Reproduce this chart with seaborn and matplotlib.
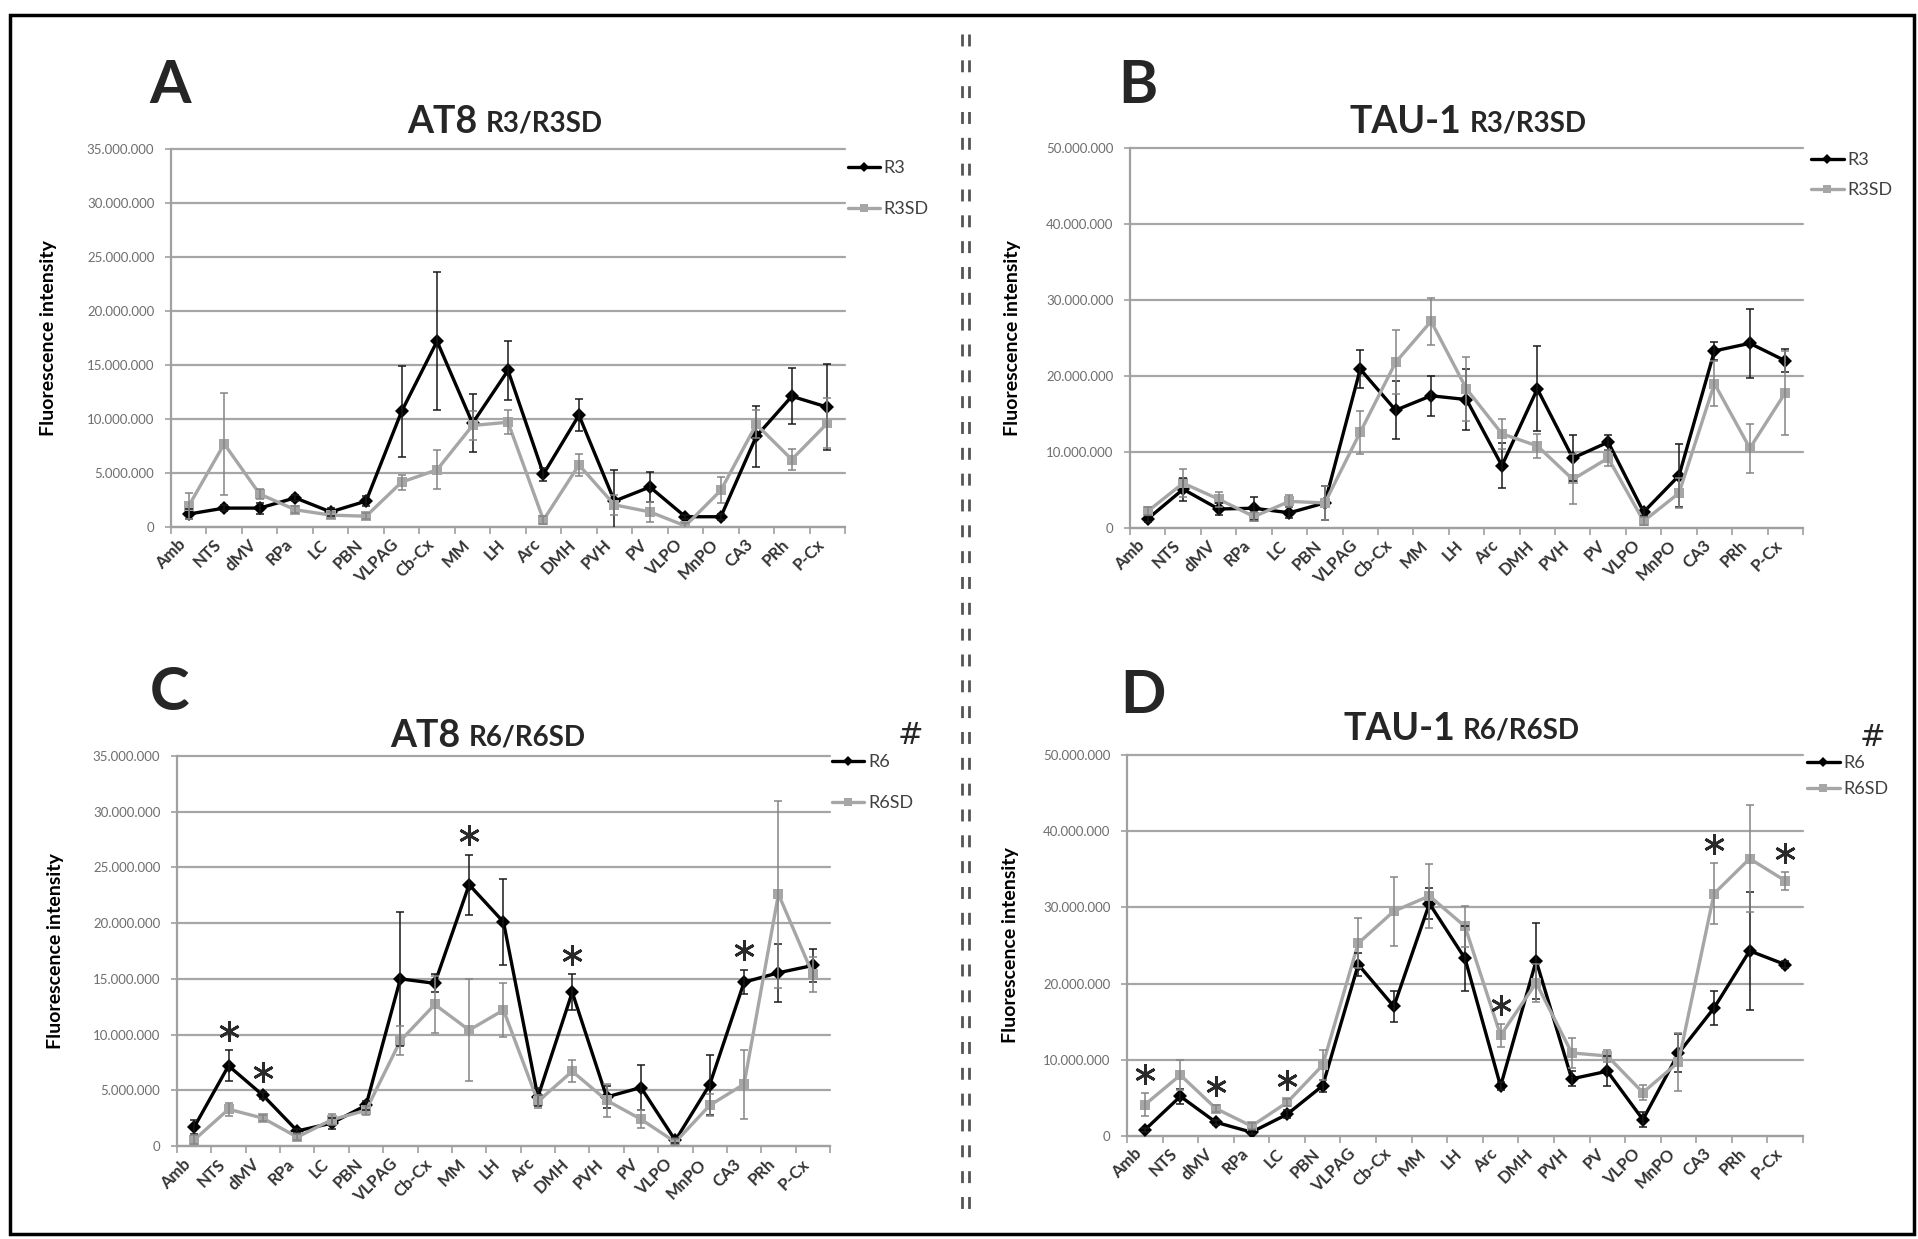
import numpy as np
import pandas as pd
import matplotlib
matplotlib.use("Agg")
import matplotlib.pyplot as plt
import matplotlib.ticker as ticker
from matplotlib.lines import Line2D
from matplotlib.patches import Rectangle
import seaborn as sns

# brain regions on the x axis
regions = ["Amb", "NTS", "dMV", "RPa", "LC", "PBN", "VLPAG", "Cb-Cx", "MM", "LH",
           "Arc", "DMH", "PVH", "PV", "VLPO", "MnPO", "CA3", "PRh", "P-Cx"]

# values in millions
at8_r3 = [1.2, 1.75, 1.75, 2.7, 1.4, 2.4, 10.7, 17.2, 9.6, 14.5, 4.9, 10.35, 2.4, 3.7, 0.95, 0.95, 8.4, 12.1, 11.1]
at8_r3_err = [0.5, 0.3, 0.5, 0.3, 0.4, 0.5, 4.2, 6.4, 2.7, 2.7, 0.6, 1.5, 2.9, 1.4, 0.2, 0.3, 2.8, 2.6, 4.0]
at8_r3sd = [1.95, 7.7, 3.05, 1.6, 1.1, 1.0, 4.15, 5.3, 9.4, 9.7, 0.65, 5.75, 2.05, 1.4, 0.1, 3.4, 9.5, 6.25, 9.6]
at8_r3sd_err = [1.2, 4.7, 0.5, 0.3, 0.3, 0.3, 0.7, 1.8, 1.3, 1.1, 0.4, 1.0, 0.9, 0.9, 0.3, 1.2, 1.3, 1.0, 2.3]

tau1_r3 = [1.2, 5.1, 2.5, 2.6, 2.0, 3.3, 20.9, 15.5, 17.4, 16.9, 8.2, 18.3, 9.2, 11.3, 2.1, 6.9, 23.3, 24.3, 22.0]
tau1_r3_err = [0.4, 1.5, 0.8, 1.5, 0.7, 2.2, 2.5, 3.8, 2.6, 4.0, 3.0, 5.6, 3.0, 1.0, 0.5, 4.2, 1.2, 4.5, 1.5]
tau1_r3sd = [2.2, 5.9, 3.8, 1.5, 3.5, 3.3, 12.6, 21.8, 27.2, 18.3, 12.4, 10.8, 6.4, 9.2, 0.9, 4.6, 19.0, 10.5, 17.8]
tau1_r3sd_err = [0.5, 1.8, 1.0, 0.6, 0.8, 2.2, 2.8, 4.2, 3.1, 4.2, 2.0, 1.6, 3.3, 1.1, 0.5, 2.0, 3.0, 3.2, 5.5]

at8_r6 = [1.7, 7.2, 4.55, 1.35, 2.05, 3.65, 15.0, 14.6, 23.45, 20.1, 4.4, 13.8, 4.4, 5.25, 0.5, 5.5, 14.7, 15.55, 16.2]
at8_r6_err = [0.6, 1.4, 0.3, 0.2, 0.5, 0.4, 6.0, 0.8, 2.7, 3.9, 0.8, 1.6, 1.0, 2.0, 0.2, 2.7, 1.1, 2.6, 1.5]
at8_r6sd = [0.55, 3.3, 2.5, 0.8, 2.35, 3.2, 9.45, 12.7, 10.4, 12.2, 4.0, 6.7, 4.1, 2.4, 0.35, 3.65, 5.55, 22.6, 15.4]
at8_r6sd_err = [0.4, 0.6, 0.3, 0.3, 0.5, 0.4, 1.3, 2.6, 4.6, 2.4, 0.6, 1.0, 1.5, 0.8, 0.3, 1.0, 3.1, 8.4, 1.6]

tau1_r6 = [0.8, 5.2, 1.8, 0.5, 2.85, 6.6, 22.5, 17.0, 30.5, 23.3, 6.55, 23.0, 7.5, 8.5, 2.15, 10.85, 16.8, 24.3, 22.5]
tau1_r6_err = [0.3, 1.0, 0.3, 0.3, 0.5, 0.8, 1.5, 2.0, 2.0, 4.3, 0.5, 5.0, 1.0, 2.0, 1.0, 2.5, 2.2, 7.7, 0.5]
tau1_r6sd = [4.1, 8.0, 3.6, 1.3, 4.4, 9.3, 25.3, 29.5, 31.5, 27.5, 13.2, 20.1, 10.9, 10.5, 5.7, 9.7, 31.8, 36.4, 33.5]
tau1_r6sd_err = [1.5, 2.0, 0.5, 0.4, 0.5, 2.0, 3.3, 4.5, 4.2, 2.7, 1.5, 2.5, 2.0, 0.8, 1.0, 3.8, 4.0, 7.0, 1.2]

# significant differences
at8_r6_stars = ["NTS", "dMV", "MM", "DMH", "CA3"]
tau1_r6_stars = ["Amb", "dMV", "LC", "Arc", "CA3", "P-Cx"]

BLACK = "#000000"
GREY = "#a6a6a6"
AXIS_GREY = "#a0a0a0"

W, H = 1918, 1239

sns.set_theme(style="white")
plt.rcParams["font.family"] = ["Lato", "DejaVu Sans"]


def dotted_thousands(v, pos):
    return "{:,}".format(int(round(v))).replace(",", ".")


def draw_panel(ax, names, v1, e1, v2, e2, ymax, ystep, legend_xy, legend_gap,
               ylabel_x, stars=None):
    g1, g2 = names
    n = len(regions)
    df = pd.DataFrame({
        "region": regions * 2,
        "value": np.concatenate([v1, v2]) * 1e6,
        "group": [g1] * n + [g2] * n,
    })
    sns.lineplot(data=df, x="region", y="value", hue="group", style="group",
                 palette={g1: BLACK, g2: GREY}, markers={g1: "D", g2: "s"},
                 dashes=False, sort=False, errorbar=None, legend=False,
                 linewidth=2.4, markersize=7, markeredgewidth=0, ax=ax, zorder=3)
    ax.errorbar(regions, np.array(v1) * 1e6, yerr=np.array(e1) * 1e6, fmt="none",
                ecolor="#1a1a1a", elinewidth=1.1, capsize=3, capthick=1.1, zorder=4)
    ax.errorbar(regions, np.array(v2) * 1e6, yerr=np.array(e2) * 1e6, fmt="none",
                ecolor="#858585", elinewidth=1.1, capsize=3, capthick=1.1, zorder=4)

    if stars:
        for s in stars:
            i = regions.index(s)
            top = max(v1[i] + e1[i], v2[i] + e2[i]) + 0.05 * ymax
            ax.plot([s], [top * 1e6], marker=(6, 2, 0), ms=15, mew=2.0,
                    color="#2a2a2a", linestyle="none", clip_on=False, zorder=5)

    ax.set_xlim(-0.5, n - 0.5)
    ax.set_ylim(0, ymax * 1e6)
    ax.yaxis.set_major_locator(ticker.MultipleLocator(ystep * 1e6))
    ax.yaxis.set_major_formatter(ticker.FuncFormatter(dotted_thousands))
    ax.xaxis.set_major_locator(ticker.FixedLocator(np.arange(n)))
    ax.xaxis.set_minor_locator(ticker.FixedLocator(np.arange(-0.5, n)))
    ax.tick_params(axis="x", which="major", length=0, labelbottom=False)
    ax.tick_params(axis="x", which="minor", length=5, width=1.2, color=AXIS_GREY,
                   direction="out", bottom=True)
    ax.tick_params(axis="y", length=4, width=1.2, color=AXIS_GREY, direction="out",
                   left=True, labelsize=9.5, labelcolor="#6e6e6e", pad=8)

    # slanted category labels, right end under each category
    for r in regions:
        ax.text(r, -0.025, r, transform=ax.get_xaxis_transform(),
                rotation=45.0, ha="right", va="top",
                fontsize=12, fontweight="bold", color="#333333", clip_on=False)

    ax.yaxis.grid(True, color=GREY, linewidth=1.6)
    ax.xaxis.grid(False)
    ax.set_axisbelow(True)
    for gl in ax.get_ygridlines():
        gl.set_clip_on(False)
    sns.despine(ax=ax)
    for side in ["left", "bottom"]:
        ax.spines[side].set_color(AXIS_GREY)
        ax.spines[side].set_linewidth(1.6)

    ax.set_xlabel("")
    ax.set_ylabel("Fluorescence intensity", fontsize=14, fontweight="bold", color="black")
    ax.yaxis.set_label_coords(ylabel_x, 0.5)

    handles = [
        Line2D([], [], color=BLACK, lw=2.4, marker="D", ms=5.5, mew=0),
        Line2D([], [], color=GREY, lw=2.4, marker="s", ms=6, mew=0),
    ]
    ax.legend(handles, [g1, g2], loc="center left", bbox_to_anchor=legend_xy,
              frameon=False, fontsize=13, handlelength=1.8, handletextpad=0.2,
              labelspacing=legend_gap, borderpad=0, borderaxespad=0,
              labelcolor="#404040")


def add_title(fig, ax, x, y, letter, lx, ly, main, sub):
    fig.text(lx / W, 1 - ly / H, letter, fontsize=43, fontweight="bold",
             va="baseline", ha="left")
    t1 = fig.text(x / W, 1 - y / H, main, fontsize=27, fontweight="bold",
                  va="baseline", ha="left")
    ax.annotate(sub, xy=(1, 0), xycoords=t1, xytext=(6, 1.5),
                textcoords="offset points", fontsize=20, fontweight="bold",
                va="bottom", ha="left")


fig = plt.figure(figsize=(W / 100, H / 100), dpi=100)

ax_a = fig.add_axes([171 / W, 1 - 527 / H, 674 / W, 378 / H])
ax_b = fig.add_axes([1130 / W, 1 - 528 / H, 673 / W, 380 / H])
ax_c = fig.add_axes([177 / W, 1 - 1146 / H, 653 / W, 390 / H])
ax_d = fig.add_axes([1127 / W, 1 - 1136 / H, 676 / W, 381 / H])

draw_panel(ax_a, ("R3", "R3SD"), at8_r3, at8_r3_err, at8_r3sd, at8_r3sd_err,
           35, 5, (1.004, 0.8955), 1.4, -0.169)
draw_panel(ax_b, ("R3", "R3SD"), tau1_r3, tau1_r3_err, tau1_r3sd, tau1_r3sd_err,
           50, 10, (1.012, 0.929), 0.78, -0.162)
draw_panel(ax_c, ("R6", "R6SD"), at8_r6, at8_r6_err, at8_r6sd, at8_r6sd_err,
           35, 5, (1.003, 0.932), 1.4, -0.173, stars=at8_r6_stars)
draw_panel(ax_d, ("R6", "R6SD"), tau1_r6, tau1_r6_err, tau1_r6sd, tau1_r6sd_err,
           50, 10, (1.006, 0.945), 0.55, -0.16, stars=tau1_r6_stars)

add_title(fig, ax_a, 407, 133, "A", 149, 103, "AT8", "R3/R3SD")
add_title(fig, ax_b, 1350, 133, "B", 1118, 103, "TAU-1", "R3/R3SD")
add_title(fig, ax_c, 390, 747, "C", 150, 710, "AT8", "R6/R6SD")
add_title(fig, ax_d, 1343, 740, "D", 1120, 713, "TAU-1", "R6/R6SD")

# "#" marks next to the R6 legends
fig.text(910 / W, 1 - 736 / H, "#", fontsize=22, ha="center", va="center",
         family="DejaVu Sans")
fig.text(1872 / W, 1 - 737 / H, "#", fontsize=22, ha="center", va="center",
         family="DejaVu Sans")

# double dashed divider between left and right columns
for xd in [962, 969]:
    fig.add_artist(Line2D([xd / W, xd / W], [1 - 34 / H, 1 - 1211 / H],
                          transform=fig.transFigure, color="#555555", lw=2,
                          linestyle=(0, (4.3, 5.0))))

# outer frame
fig.add_artist(Rectangle((10 / W, 1 - 1234 / H), 1904 / W, 1219 / H,
                         transform=fig.transFigure, fill=False,
                         edgecolor="black", linewidth=2.5))

fig.savefig("out.png", dpi=100)
